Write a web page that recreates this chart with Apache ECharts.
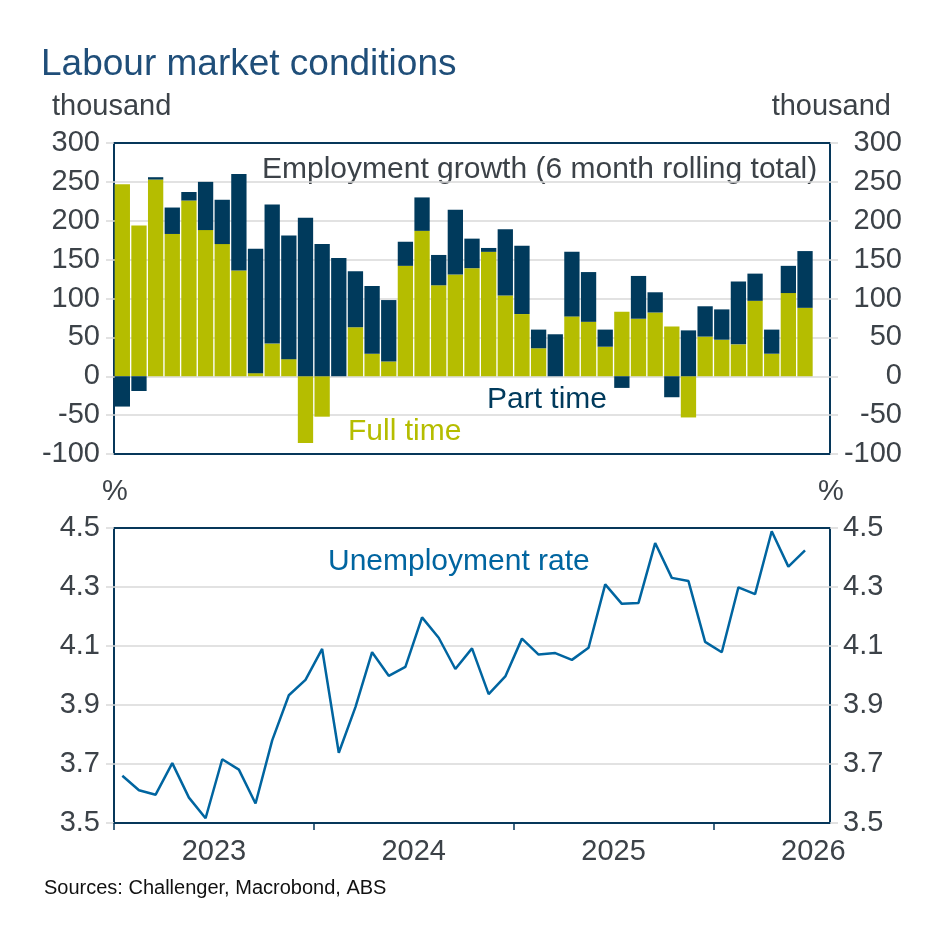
<!DOCTYPE html>
<html>
<head>
<meta charset="utf-8">
<script src="https://cdn.jsdelivr.net/npm/echarts@6/dist/echarts.min.js"></script>
<style>
html,body{margin:0;padding:0;background:#fff;}
#chart{width:943px;height:943px;}
</style>
</head>
<body>
<div id="chart"></div>
<script>
// Monthly categories (Jan 2023 .. Jun 2026 on the chart's time scale)
var months = ['2023-01','2023-02','2023-03','2023-04','2023-05','2023-06','2023-07','2023-08','2023-09','2023-10','2023-11','2023-12',
              '2024-01','2024-02','2024-03','2024-04','2024-05','2024-06','2024-07','2024-08','2024-09','2024-10','2024-11','2024-12',
              '2025-01','2025-02','2025-03','2025-04','2025-05','2025-06','2025-07','2025-08','2025-09','2025-10','2025-11','2025-12',
              '2026-01','2026-02','2026-03','2026-04','2026-05','2026-06'];
// Employment growth, 6 month rolling total (thousand)
var fullTime = [247,194,253,183,226,188,170,136,4,42,22,-86,-52,0,63,29,19,142,187,117,131,139,160,104,80,36,0,77,70,38,83,74,82,64,-53,51,47,41,97,29,107,88];
var partTime = [-39,-19,3,34,11,62,57,124,160,179,159,204,170,152,72,87,79,31,43,39,83,38,5,85,88,24,54,83,64,22,-15,55,26,-27,59,39,39,81,35,31,35,73];
// Unemployment rate (%)
var unemployment = [3.660,3.611,3.596,3.703,3.586,3.516,3.716,3.681,3.566,3.780,3.933,3.985,4.090,3.738,3.893,4.079,3.999,4.029,4.197,4.128,4.022,4.092,3.937,3.997,4.125,4.071,4.076,4.053,4.094,4.309,4.243,4.246,4.449,4.331,4.320,4.114,4.079,4.299,4.276,4.489,4.369,4.424];
// Axis labels
var yearLabels = ['2023','2024','2025','2026'];
var yearTickPositions = [0,12,24,36];      // month offsets of year boundaries
var yearLabelPositions = [6,18,30,42];     // month offsets of year labels

var FONT = 'Liberation Sans, Arial, Helvetica, sans-serif';
var NAVY = '#003a5c', OLIVE = '#b5bd00', BLUE = '#0065a0', TXT = '#3c4248', GRIDC = '#d9d9d9', FRAME = '#06375a';

function xy(arr){ return arr.map(function(v,i){ return [i + 0.5, v]; }); }

var chart = echarts.init(document.getElementById('chart'), null, {renderer:'canvas'});

var yLabelStyle = {fontSize:29, color:TXT, fontFamily:FONT};
var split = {show:true, showMinLine:false, showMaxLine:false, lineStyle:{color:GRIDC, width:1.5}};

var option = {
  backgroundColor:'#fff',
  animation:false,
  title:{
    text:'Labour market conditions', left:41, top:46, padding:0,
    textStyle:{fontSize:37, fontWeight:'normal', color:'#1f4e79', fontFamily:FONT}
  },
  grid:[
    {left:114, right:113, top:143, height:311, show:true, borderColor:FRAME, borderWidth:2, backgroundColor:'transparent', containLabel:false},
    {left:114, right:113, top:528, height:295, show:true, borderColor:FRAME, borderWidth:2, backgroundColor:'transparent', containLabel:false}
  ],
  xAxis:[
    {type:'category', gridIndex:0, data:months.concat(['']), boundaryGap:true, show:false},
    {type:'value', gridIndex:1, min:0, max:months.length + 1,
      axisLine:{show:true, lineStyle:{color:FRAME, width:2}},
      axisTick:{show:true, length:7, lineStyle:{color:FRAME, width:1.5}, customValues:yearTickPositions},
      axisLabel:{show:true, margin:14, fontSize:29, color:TXT, fontFamily:FONT,
        customValues:yearLabelPositions,
        formatter:function(v){ var k = yearLabelPositions.indexOf(Math.round(v)); return k >= 0 ? yearLabels[k] : ''; }},
      splitLine:{show:false}
    }
  ],
  yAxis:[
    {type:'value', gridIndex:0, min:-100, max:300, interval:50, position:'left',
      axisLine:{show:false}, axisTick:{show:true, length:8, lineStyle:{color:GRIDC, width:1.5}},
      axisLabel:Object.assign({margin:14}, yLabelStyle),
      splitLine:split},
    {type:'value', gridIndex:0, min:-100, max:300, interval:50, position:'right',
      axisLine:{show:false}, axisTick:{show:true, length:8, lineStyle:{color:GRIDC, width:1.5}},
      axisLabel:Object.assign({margin:72, align:'right'}, yLabelStyle),
      splitLine:{show:false}},
    {type:'value', gridIndex:1, min:3.5, max:4.5, interval:0.2, position:'left',
      axisLine:{show:false}, axisTick:{show:true, length:8, lineStyle:{color:GRIDC, width:1.5}},
      axisLabel:Object.assign({margin:14, formatter:function(v){return v.toFixed(1);}}, yLabelStyle),
      splitLine:split},
    {type:'value', gridIndex:1, min:3.5, max:4.5, interval:0.2, position:'right',
      axisLine:{show:false}, axisTick:{show:true, length:8, lineStyle:{color:GRIDC, width:1.5}},
      axisLabel:Object.assign({margin:13, align:'left', formatter:function(v){return v.toFixed(1);}}, yLabelStyle),
      splitLine:{show:false}}
  ],
  series:[
    {name:'Full time', type:'bar', xAxisIndex:0, yAxisIndex:0, stack:'emp', barWidth:15.3,
      itemStyle:{color:OLIVE}, data:fullTime},
    {name:'Part time', type:'bar', xAxisIndex:0, yAxisIndex:0, stack:'emp', barWidth:15.3,
      itemStyle:{color:NAVY}, data:partTime},
    {name:'Unemployment rate', type:'line', xAxisIndex:1, yAxisIndex:2, symbol:'none',
      lineStyle:{color:BLUE, width:2.5}, data:xy(unemployment)}
  ],
  graphic:[
    {type:'text', left:52, top:92, style:{text:'thousand', fontSize:29, fill:TXT, fontFamily:FONT}},
    {type:'text', right:52, top:92, style:{text:'thousand', fontSize:29, fill:TXT, fontFamily:FONT}},
    {type:'text', left:102, top:477, style:{text:'%', fontSize:29, fill:TXT, fontFamily:FONT}},
    {type:'text', left:818, top:477, style:{text:'%', fontSize:29, fill:TXT, fontFamily:FONT}},
    {type:'text', left:262, top:155, style:{text:'Employment growth (6 month rolling total)', fontSize:30, fill:TXT, fontFamily:FONT}},
    {type:'text', left:487, top:385, style:{text:'Part time', fontSize:30, fill:NAVY, fontFamily:FONT}},
    {type:'text', left:348, top:417, style:{text:'Full time', fontSize:30, fill:OLIVE, fontFamily:FONT}},
    {type:'text', left:328, top:547, style:{text:'Unemployment rate', fontSize:30, fill:BLUE, fontFamily:FONT}},
    {type:'text', left:44, top:878, style:{text:'Sources: Challenger, Macrobond, ABS', fontSize:20, fill:'#111', fontFamily:FONT}}
  ]
};
chart.setOption(option);
</script>
</body>
</html>
